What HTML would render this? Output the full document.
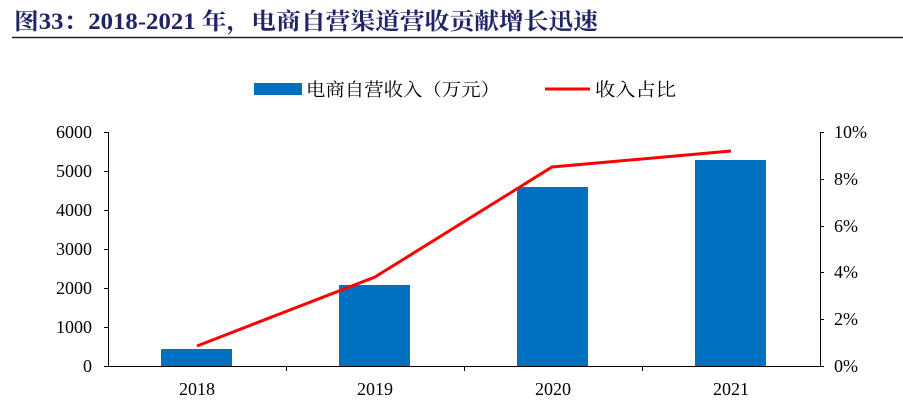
<!DOCTYPE html>
<html><head><meta charset="utf-8"><style>
body{margin:0;background:#fff;}
svg{display:block;}
</style></head><body>
<svg width="903" height="400" xmlns="http://www.w3.org/2000/svg">
<text x="14" y="29" font-family="'Liberation Serif','Noto Serif CJK SC',serif" font-weight="bold" font-size="23" fill="#1f2466" textLength="584" lengthAdjust="spacingAndGlyphs">图33：2018-2021 年，电商自营渠道营收贡献增长迅速</text>
<line x1="12" y1="37.5" x2="903" y2="37.5" stroke="#222" stroke-width="1.5"/>
<g font-family="'Liberation Serif','Noto Serif CJK SC',serif" font-size="18" fill="#000">
<rect x="254" y="83" width="48" height="12" fill="#0070c0"/>
<text x="306" y="96" textLength="194" lengthAdjust="spacingAndGlyphs">电商自营收入（万元）</text>
<line x1="545" y1="89" x2="590" y2="89" stroke="#ff0000" stroke-width="3"/>
<text x="595" y="96" textLength="81" lengthAdjust="spacingAndGlyphs">收入占比</text>
</g>
<g stroke="#000" stroke-width="1" fill="none">
<line x1="108.5" y1="132" x2="108.5" y2="366"/>
<line x1="108" y1="366.5" x2="820" y2="366.5"/>
<line x1="820.5" y1="132" x2="820.5" y2="366"/>
<line x1="104" y1="132.5" x2="108" y2="132.5"/>
<line x1="104" y1="171.5" x2="108" y2="171.5"/>
<line x1="104" y1="210.5" x2="108" y2="210.5"/>
<line x1="104" y1="249.5" x2="108" y2="249.5"/>
<line x1="104" y1="288.5" x2="108" y2="288.5"/>
<line x1="104" y1="327.5" x2="108" y2="327.5"/>
<line x1="104" y1="366.5" x2="108" y2="366.5"/>
<line x1="820" y1="132.5" x2="824" y2="132.5"/>
<line x1="820" y1="179.5" x2="824" y2="179.5"/>
<line x1="820" y1="226.5" x2="824" y2="226.5"/>
<line x1="820" y1="272.5" x2="824" y2="272.5"/>
<line x1="820" y1="319.5" x2="824" y2="319.5"/>
<line x1="820" y1="366.5" x2="824" y2="366.5"/>
<line x1="286.5" y1="366" x2="286.5" y2="371"/>
<line x1="464.5" y1="366" x2="464.5" y2="371"/>
<line x1="642.5" y1="366" x2="642.5" y2="371"/>
</g>
<g fill="#0070c0">
<rect x="161" y="349" width="71" height="17"/>
<rect x="339" y="285" width="71" height="81"/>
<rect x="517" y="187" width="71" height="179"/>
<rect x="695" y="160" width="71" height="206"/>
</g>
<polyline points="197,346 375,277 552,167 731,151" fill="none" stroke="#ff0000" stroke-width="3"/>
<g font-family="'Liberation Serif',serif" font-size="18" fill="#000">
<g text-anchor="end">
<text x="92" y="138">6000</text>
<text x="92" y="177">5000</text>
<text x="92" y="216">4000</text>
<text x="92" y="255">3000</text>
<text x="92" y="294">2000</text>
<text x="92" y="333">1000</text>
<text x="92" y="372">0</text>
</g>
<text x="834" y="138">10%</text>
<text x="834" y="185">8%</text>
<text x="834" y="232">6%</text>
<text x="834" y="278">4%</text>
<text x="834" y="325">2%</text>
<text x="834" y="372">0%</text>
<g text-anchor="middle">
<text x="197" y="395">2018</text>
<text x="375" y="395">2019</text>
<text x="553" y="395">2020</text>
<text x="731" y="395">2021</text>
</g>
</g>
</svg>
</body></html>
